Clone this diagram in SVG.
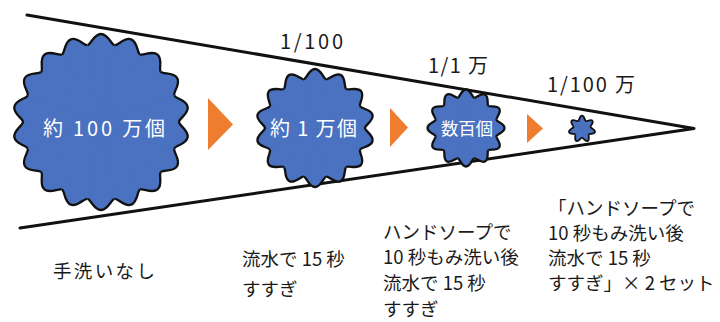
<svg xmlns="http://www.w3.org/2000/svg" xmlns:xlink="http://www.w3.org/1999/xlink" width="720" height="322" viewBox="0 0 720 322">
  <style>
    .funnel { fill: none; stroke: #111; stroke-width: 3; stroke-linecap: round; stroke-linejoin: round; }
    .core { fill: #4A72C0; }
    .fill { fill: #4A72C0; }
    .edge { fill: none; stroke: #111; stroke-width: 2.3; stroke-linecap: butt; }
    .edge-s { fill: none; stroke: #111; stroke-width: 1.8; stroke-linecap: butt; }
    .arrow { fill: #EE7D2F; }
    .in { font-family: "Noto Sans CJK JP", "Noto Sans", sans-serif; fill: #fff; }
    .ratio { font-family: "Noto Sans CJK JP", "Noto Sans", sans-serif; fill: #1a1a1a; font-size: 20px; }
    .cap { font-family: "Noto Sans CJK JP", "Noto Sans", sans-serif; fill: #1a1a1a; font-size: 18.5px; }
  </style>
  <defs>
    <!-- one wave period of each germ outline: wedge fill + outer edge -->
    <g id="lobe18">
      <path class="fill" d="M0,0 L76.82,-13.54 C77.45,-9.98 88,-7.25 88,0 C88,7.25 77.45,9.98 76.82,13.54 Z"/>
      <path class="edge" d="M76.82,-13.54 C77.45,-9.98 88,-7.25 88,0 C88,7.25 77.45,9.98 76.82,13.54"/>
    </g>
    <g id="lobe14">
      <path class="fill" d="M0,0 L48.75,-11.13 C49.43,-8.15 59,-6.1 59,0 C59,6.1 49.43,8.15 48.75,11.13 Z"/>
      <path class="edge" d="M48.75,-11.13 C49.43,-8.15 59,-6.1 59,0 C59,6.1 49.43,8.15 48.75,11.13"/>
    </g>
    <g id="lobe12">
      <path class="fill" d="M0,0 L30.43,-8.15 C31.02,-5.94 38.5,-4.58 38.5,0 C38.5,4.58 31.02,5.94 30.43,8.15 Z"/>
      <path class="edge" d="M30.43,-8.15 C31.02,-5.94 38.5,-4.58 38.5,0 C38.5,4.58 31.02,5.94 30.43,8.15"/>
    </g>
    <g id="lobe7">
      <path class="fill" d="M0,0 L7.84,-3.77 C8.37,-2.66 13.3,-2.47 13.3,0 C13.3,2.47 8.37,2.66 7.84,3.77 Z"/>
      <path class="edge-s" d="M7.84,-3.77 C8.37,-2.66 13.3,-2.47 13.3,0 C13.3,2.47 8.37,2.66 7.84,3.77"/>
    </g>
  </defs>

  <rect width="720" height="322" fill="#fff"/>

  <!-- funnel -->
  <g id="funnel">
    <polyline class="funnel" points="27,15 694,128.5 20,228"/>
  </g>

  <!-- ratios -->
  <g id="ratios">
    <text class="ratio" x="280" y="49" textLength="63" lengthAdjust="spacing">1/100</text>
    <text class="ratio" x="428" y="73" textLength="60" lengthAdjust="spacing">1/1 万</text>
    <text class="ratio" x="547" y="92" textLength="88" lengthAdjust="spacing">1/100 万</text>
  </g>

  <!-- step 1 -->
  <g id="germ-1m">
    <g transform="translate(101,122) rotate(-90)">
      <circle class="core" r="77.1"/>
      <use xlink:href="#lobe18"/>
      <use xlink:href="#lobe18" transform="rotate(20)"/>
      <use xlink:href="#lobe18" transform="rotate(40)"/>
      <use xlink:href="#lobe18" transform="rotate(60)"/>
      <use xlink:href="#lobe18" transform="rotate(80)"/>
      <use xlink:href="#lobe18" transform="rotate(100)"/>
      <use xlink:href="#lobe18" transform="rotate(120)"/>
      <use xlink:href="#lobe18" transform="rotate(140)"/>
      <use xlink:href="#lobe18" transform="rotate(160)"/>
      <use xlink:href="#lobe18" transform="rotate(180)"/>
      <use xlink:href="#lobe18" transform="rotate(200)"/>
      <use xlink:href="#lobe18" transform="rotate(220)"/>
      <use xlink:href="#lobe18" transform="rotate(240)"/>
      <use xlink:href="#lobe18" transform="rotate(260)"/>
      <use xlink:href="#lobe18" transform="rotate(280)"/>
      <use xlink:href="#lobe18" transform="rotate(300)"/>
      <use xlink:href="#lobe18" transform="rotate(320)"/>
      <use xlink:href="#lobe18" transform="rotate(340)"/>
    </g>
    <text class="in" x="43" y="136" font-size="20" textLength="122" lengthAdjust="spacing">約 100 万個</text>
  </g>

  <!-- step 2 -->
  <g id="germ-10k">
    <g transform="translate(315,128) rotate(-90)">
      <circle class="core" r="50.3"/>
      <use xlink:href="#lobe14"/>
      <use xlink:href="#lobe14" transform="rotate(25.714)"/>
      <use xlink:href="#lobe14" transform="rotate(51.429)"/>
      <use xlink:href="#lobe14" transform="rotate(77.143)"/>
      <use xlink:href="#lobe14" transform="rotate(102.857)"/>
      <use xlink:href="#lobe14" transform="rotate(128.571)"/>
      <use xlink:href="#lobe14" transform="rotate(154.286)"/>
      <use xlink:href="#lobe14" transform="rotate(180)"/>
      <use xlink:href="#lobe14" transform="rotate(205.714)"/>
      <use xlink:href="#lobe14" transform="rotate(231.429)"/>
      <use xlink:href="#lobe14" transform="rotate(257.143)"/>
      <use xlink:href="#lobe14" transform="rotate(282.857)"/>
      <use xlink:href="#lobe14" transform="rotate(308.571)"/>
      <use xlink:href="#lobe14" transform="rotate(334.286)"/>
    </g>
    <text class="in" x="270" y="136" font-size="20" textLength="87" lengthAdjust="spacing">約 1 万個</text>
  </g>

  <!-- step 3 -->
  <g id="germ-100s">
    <g transform="translate(466,128) rotate(-90)">
      <circle class="core" r="31.8"/>
      <use xlink:href="#lobe12"/>
      <use xlink:href="#lobe12" transform="rotate(30)"/>
      <use xlink:href="#lobe12" transform="rotate(60)"/>
      <use xlink:href="#lobe12" transform="rotate(90)"/>
      <use xlink:href="#lobe12" transform="rotate(120)"/>
      <use xlink:href="#lobe12" transform="rotate(150)"/>
      <use xlink:href="#lobe12" transform="rotate(180)"/>
      <use xlink:href="#lobe12" transform="rotate(210)"/>
      <use xlink:href="#lobe12" transform="rotate(240)"/>
      <use xlink:href="#lobe12" transform="rotate(270)"/>
      <use xlink:href="#lobe12" transform="rotate(300)"/>
      <use xlink:href="#lobe12" transform="rotate(330)"/>
    </g>
    <text class="in" x="441" y="135" font-size="17.5" textLength="52" lengthAdjust="spacing">数百個</text>
  </g>

  <!-- step 4 -->
  <g id="germ-few">
    <g transform="translate(582,129) rotate(-90)">
      <circle class="core" r="9"/>
      <use xlink:href="#lobe7"/>
      <use xlink:href="#lobe7" transform="rotate(51.429)"/>
      <use xlink:href="#lobe7" transform="rotate(102.857)"/>
      <use xlink:href="#lobe7" transform="rotate(154.286)"/>
      <use xlink:href="#lobe7" transform="rotate(205.714)"/>
      <use xlink:href="#lobe7" transform="rotate(257.143)"/>
      <use xlink:href="#lobe7" transform="rotate(308.571)"/>
    </g>
  </g>

  <!-- step arrows -->
  <g id="arrows">
    <polygon class="arrow" points="208,98 233,124.5 208,150"/>
    <polygon class="arrow" points="390,108 408,127.5 390,147"/>
    <polygon class="arrow" points="527,114 543,128.5 527,143"/>
  </g>

  <!-- captions -->
  <g id="caption-1">
    <text class="cap" x="53" y="278" font-size="21" textLength="102" lengthAdjust="spacing">手洗いなし</text>
  </g>
  <g id="caption-2">
    <text class="cap" x="242" y="266">流水で 15 秒</text>
    <text class="cap" x="242" y="296">すすぎ</text>
  </g>
  <g id="caption-3">
    <text class="cap" x="383" y="239">ハンドソープで</text>
    <text class="cap" x="383" y="264">10 秒もみ洗い後</text>
    <text class="cap" x="383" y="290">流水で 15 秒</text>
    <text class="cap" x="383" y="316">すすぎ</text>
  </g>
  <g id="caption-4">
    <text class="cap" x="548" y="215">「ハンドソープで</text>
    <text class="cap" x="548" y="240">10 秒もみ洗い後</text>
    <text class="cap" x="548" y="265">流水で 15 秒</text>
    <text class="cap" x="548" y="290">すすぎ」× 2 セット</text>
  </g>
</svg>
